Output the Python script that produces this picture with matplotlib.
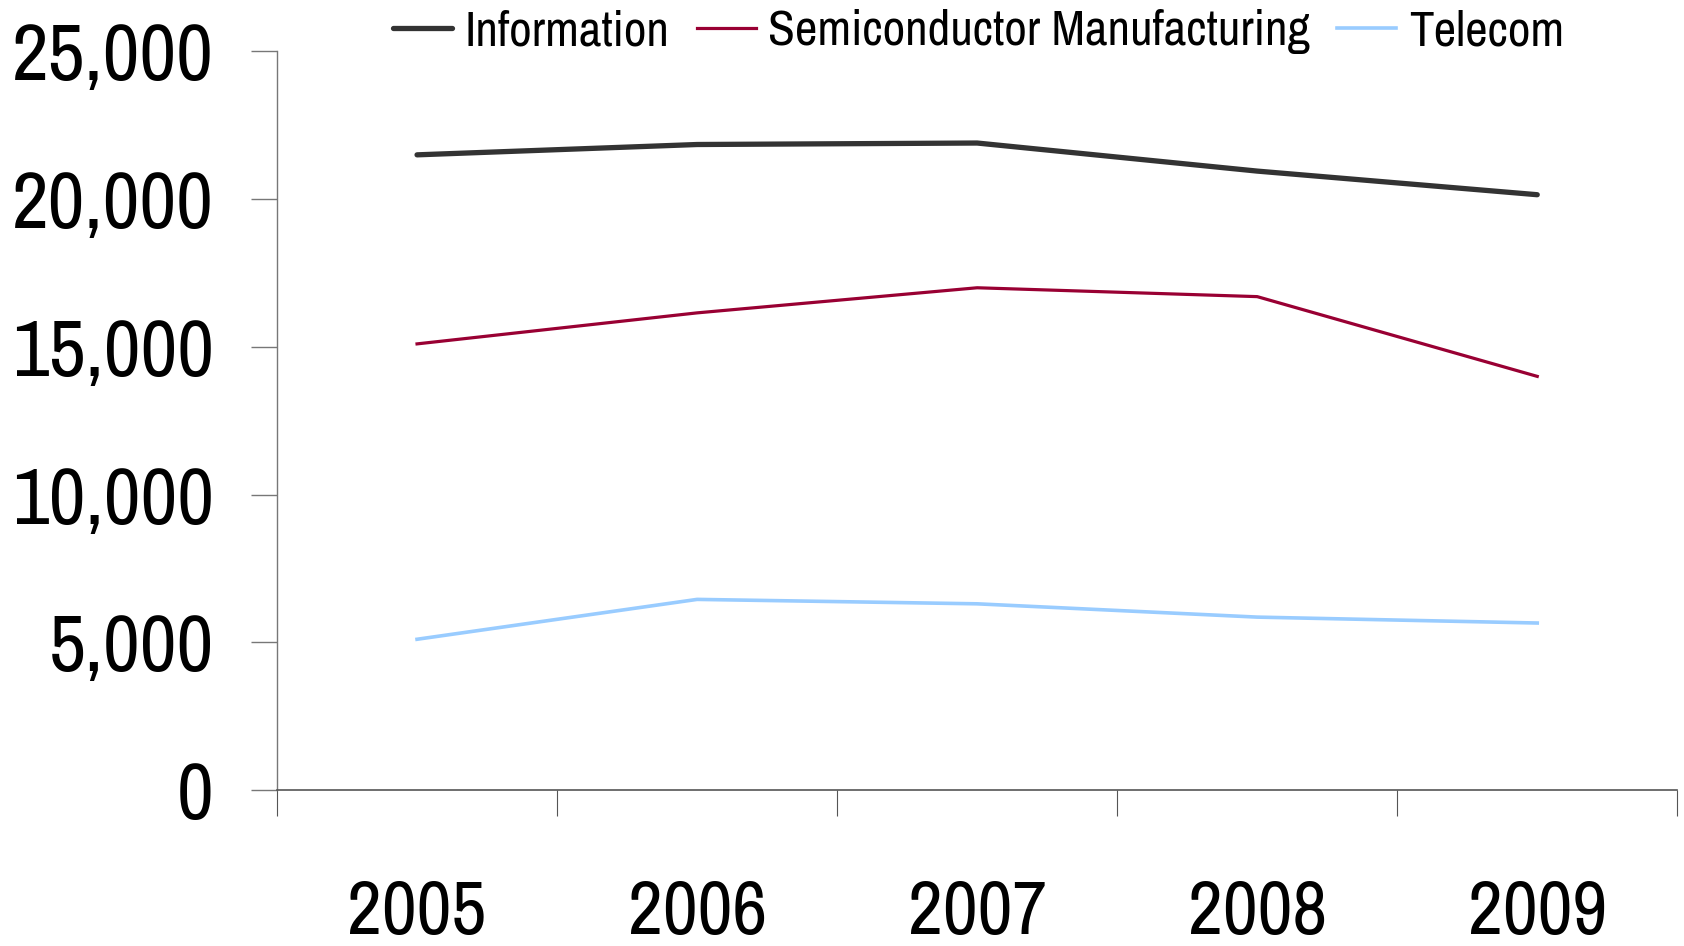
import matplotlib
matplotlib.use('Agg')
import matplotlib.pyplot as plt
from matplotlib.ticker import FuncFormatter, FixedLocator

# =========================
# data
# =========================

years = ['2005', '2006', '2007', '2008', '2009']
information = [21500, 21850, 21900, 20950, 20150]
semiconductor = [15100, 16150, 17000, 16700, 14000]
telecom = [5100, 6450, 6300, 5850, 5650]

series_names = ['Information', 'Semiconductor Manufacturing', 'Telecom']

# =========================
# plot
# =========================

plt.rcParams['font.family'] = ['Archivo Narrow', 'DejaVu Sans']

fig = plt.figure(figsize=(16.84, 9.46), dpi=100)
ax = fig.add_axes([0.1645, 0.165, 0.8315, 0.7806])

x = list(range(len(years)))
ax.plot(x, information, color='#333333', lw=3.8, solid_capstyle='round', label=series_names[0])
ax.plot(x, semiconductor, color='#990033', lw=2.3, label=series_names[1])
ax.plot(x, telecom, color='#99ccff', lw=2.6, label=series_names[2])

ax.set_xlim(-0.5, len(years) - 0.5)
ax.set_ylim(0, 25000)
ax.set_yticks(range(0, 25001, 5000))
ax.yaxis.set_major_formatter(FuncFormatter(lambda v, p: '{:,.0f}'.format(v)))

ax.set_xticks(x)
ax.set_xticklabels(years, fontsize=55, fontweight='bold')
ax.xaxis.set_minor_locator(FixedLocator([i - 0.5 for i in range(len(years) + 1)]))
ax.tick_params(axis='x', which='major', length=0, pad=64)
ax.tick_params(axis='x', which='minor', length=18.5, width=0.8, color='#555555')
ax.tick_params(axis='y', length=18.5, width=1.0, color='#777777', labelsize=58, pad=27)

for s in ['top', 'right']:
    ax.spines[s].set_visible(False)
ax.spines['left'].set_color('#777777')
ax.spines['left'].set_linewidth(1.0)
ax.spines['bottom'].set_color('#555555')
ax.spines['bottom'].set_linewidth(1.2)

fig.legend(loc='upper center', bbox_to_anchor=(0.581, 0.993), ncol=3, frameon=False,
           fontsize=35.5, handlelength=1.2, handletextpad=0.25, columnspacing=0.55,
           borderaxespad=0.0, borderpad=0.05)

fig.savefig('out.png', dpi=100)
plt.close('all')
